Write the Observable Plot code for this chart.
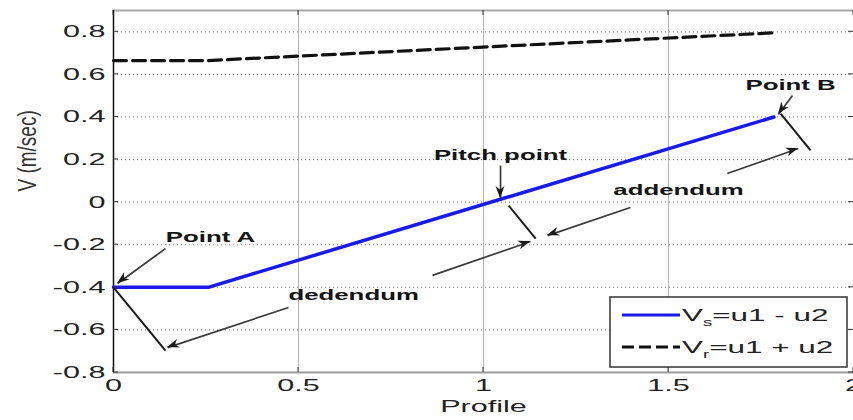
<!DOCTYPE html>
<html><head><meta charset="utf-8">
<script src="https://cdn.jsdelivr.net/npm/d3@7"></script>
<script src="https://cdn.jsdelivr.net/npm/@observablehq/plot@0.6"></script>
<style>
html,body{margin:0;padding:0;background:#fff;}
#chart{width:853px;height:420px;overflow:hidden;position:relative;}
</style></head><body><div id="chart"></div>
<script>
// ---- data ----
const xTicks = [0, 0.5, 1, 1.5, 2];
const xTickLabels = ["0", "0.5", "1", "1.5", "2"];
const yTicks = [-0.8, -0.6, -0.4, -0.2, 0, 0.2, 0.4, 0.6, 0.8];
const yTickLabels = ["-0.8", "-0.6", "-0.4", "-0.2", "0", "0.2", "0.4", "0.6", "0.8"];
const xDomain = [0, 2];
const yDomain = [-0.8, 0.9];
const xLabel = "Profile";
const yLabel = "V (m/sec)";

const profile = [0, 0.256, 1.785];
const vs = [-0.4, -0.4, 0.40];   // Vs = u1 - u2
const vr = [0.665, 0.665, 0.795]; // Vr = u1 + u2

const legendMain = ["V", "V"];
const legendSub = ["s", "r"];
const legendRest = ["=u1 - u2", "=u1 + u2"];

// annotation arrows (tail -> tip)
const arrowX1 = [0.1405, 0.473, 0.862, 1.046, 1.397, 1.659, 1.835];
const arrowY1 = [-0.218, -0.495, -0.344, 0.172, -0.025, 0.1345, 0.501];
const arrowX2 = [0.011, 0.146, 1.127, 1.046, 1.173, 1.851, 1.797];
const arrowY2 = [-0.382, -0.683, -0.185, 0.017, -0.157, 0.252, 0.412];
// extension lines
const extX1 = [0, 1.068, 1.803];
const extY1 = [-0.4, -0.016, 0.416];
const extX2 = [0.1405, 1.141, 1.884];
const extY2 = [-0.697, -0.171, 0.243];
// annotation texts
const noteText = ["Point A", "dedendum", "Pitch point", "addendum", "Point B"];
const noteX = [0.262, 0.649, 1.046, 1.527, 1.830];
const noteY = [-0.166, -0.438, 0.219, 0.055, 0.548];

// ---- tables ----
const vsRows = profile.map((x, i) => ({x, v: vs[i]}));
const vrRows = profile.map((x, i) => ({x, v: vr[i]}));
const arrowRows = arrowX1.map((d, i) => ({x1: d, y1: arrowY1[i], x2: arrowX2[i], y2: arrowY2[i]}));
const extRows = extX1.map((d, i) => ({x1: d, y1: extY1[i], x2: extX2[i], y2: extY2[i]}));
const noteRows = noteText.map((t, i) => ({t, x: noteX[i], y: noteY[i]}));

const chart = Plot.plot({
  width: 853,
  height: 420,
  marginLeft: 113,
  marginRight: 0,
  marginTop: 10,
  marginBottom: 48,
  style: {fontFamily: "'Liberation Sans', Arial, sans-serif", fontSize: "17px", color: "#222", background: "white", overflow: "visible"},
  x: {domain: xDomain, ticks: xTicks, tickFormat: d => xTickLabels[xTicks.indexOf(d)], tickSize: 0, tickPadding: 6, label: null},
  y: {domain: yDomain, ticks: yTicks, tickFormat: d => yTickLabels[yTicks.indexOf(d)], tickSize: 0, tickPadding: 8, label: null},
  marks: [
    Plot.ruleY(yTicks, {stroke: "#8a8a8a", strokeDasharray: "1,3", strokeWidth: 1.2}),
    Plot.ruleX(xTicks.filter(d => d > xDomain[0] && d < xDomain[1]), {stroke: "#b5b5b5", strokeWidth: 1}),
    Plot.ruleY([yDomain[1]], {stroke: "#a8a8a8", strokeWidth: 2}),
    Plot.ruleY([yDomain[0]], {stroke: "#9a9a9a", strokeWidth: 2.2}),
    Plot.ruleX([xDomain[0]], {stroke: "#111", strokeWidth: 1.5}),
    Plot.line(vrRows, {x: "x", y: "v", stroke: "#111", strokeWidth: 3.2, strokeDasharray: "13,6"}),
    Plot.line(vsRows, {x: "x", y: "v", stroke: "#1a1ae8", strokeWidth: 3.5}),
    Plot.link(extRows, {x1: "x1", y1: "y1", x2: "x2", y2: "y2", stroke: "#1a1a1a", strokeWidth: 2}),
    Plot.link(arrowRows, {x1: "x1", y1: "y1", x2: "x2", y2: "y2", stroke: "#3a3a3a", strokeWidth: 1.7}),
    Plot.text(noteRows, {x: "x", y: "y", text: "t", fontWeight: "bold", fontSize: 15, fill: "#141414"}),
    Plot.text([xLabel], {frameAnchor: "bottom", dy: 39, text: d => d, fontSize: 17, fill: "#222"}),
    Plot.text([yLabel], {frameAnchor: "left", dx: -86, rotate: -90, text: d => d, fontSize: 19, fill: "#333"})
  ]
});
document.getElementById("chart").appendChild(chart);

// ---- post-processing: horizontally stretched text like the reference ----
const svg = d3.select(chart.tagName.toLowerCase() === "svg" ? chart : chart.querySelector("svg"));
svg.selectAll("text").each(function () {
  const t = this;
  let tr = t.getAttribute("transform") || "";
  const x = t.getAttribute("x");
  if (x !== null && /^-?[\d.]+$/.test(x) && +x !== 0) {
    t.removeAttribute("x");
    tr = `${tr} translate(${x},0)`;
  }
  const isRot = /rotate/.test(tr);
  let p = t, bold = false;
  while (p && p.getAttribute) { if (p.getAttribute("font-weight") === "bold") { bold = true; break; } p = p.parentNode; }
  const k = isRot ? 1.35 : bold ? 1.72 : 1.8;
  t.setAttribute("transform", isRot ? `${tr} scale(1,${k})` : `${tr} scale(${k},1)`);
});

const sx = chart.scale("x").apply, sy = chart.scale("y").apply;
const X0 = sx(xDomain[0]), X1 = sx(xDomain[1]), Y0 = sy(yDomain[0]), Y1 = sy(yDomain[1]);
const g = svg.append("g");
// inward ticks
for (const v of yTicks) {
  g.append("line").attr("x1", X0).attr("x2", X0 + 5).attr("y1", sy(v)).attr("y2", sy(v)).attr("stroke", "#333");
  g.append("line").attr("x1", X1).attr("x2", X1 - 5).attr("y1", sy(v)).attr("y2", sy(v)).attr("stroke", "#333");
}
for (const v of xTicks) {
  g.append("line").attr("x1", sx(v)).attr("x2", sx(v)).attr("y1", Y0).attr("y2", Y0 - 5).attr("stroke", "#333");
  g.append("line").attr("x1", sx(v)).attr("x2", sx(v)).attr("y1", Y1).attr("y2", Y1 + 5).attr("stroke", "#333");
}
// arrowheads
for (const r of arrowRows) {
  const ax = sx(r.x1), ay = sy(r.y1), bx = sx(r.x2), by = sy(r.y2);
  const len = Math.hypot(bx - ax, by - ay);
  const ux = (bx - ax) / len, uy = (by - ay) / len, nx = -uy, ny = ux;
  const L = 12, W = 4.5;
  const pts = [[bx, by], [bx - L * ux + W * nx, by - L * uy + W * ny], [bx - 0.7 * L * ux, by - 0.7 * L * uy], [bx - L * ux - W * nx, by - L * uy - W * ny]];
  g.append("polygon").attr("points", pts.map(p => p.join(",")).join(" ")).attr("fill", "#1a1a1a");
}
// legend
const lg = svg.append("g").attr("text-anchor", "start");
const bx0 = X1 - 243, by0 = Y0 - 75, bw = 237, bh = 70;
lg.append("rect").attr("x", bx0).attr("y", by0).attr("width", bw).attr("height", bh).attr("fill", "white").attr("stroke", "#333").attr("stroke-width", 1.5);
const styles = [{stroke: "#1a1ae8", dash: null}, {stroke: "#111", dash: "12,5"}];
legendMain.forEach((m, i) => {
  const ly = by0 + 18 + i * 32;
  lg.append("line").attr("x1", bx0 + 12).attr("x2", bx0 + 70).attr("y1", ly).attr("y2", ly)
    .attr("stroke", styles[i].stroke).attr("stroke-width", 3.2).attr("stroke-dasharray", styles[i].dash);
  const tx = lg.append("text").attr("text-anchor", "start").attr("font-family", "'Liberation Sans', Arial, sans-serif").attr("font-size", 17).attr("fill", "#222")
    .attr("transform", `translate(${bx0 + 72},${ly + 6}) scale(1.85,1)`);
  tx.append("tspan").text(m);
  tx.append("tspan").attr("dy", 5).attr("font-size", 10).text(legendSub[i]);
  tx.append("tspan").attr("dy", -5).text(legendRest[i]);
});
</script>
</body></html>
